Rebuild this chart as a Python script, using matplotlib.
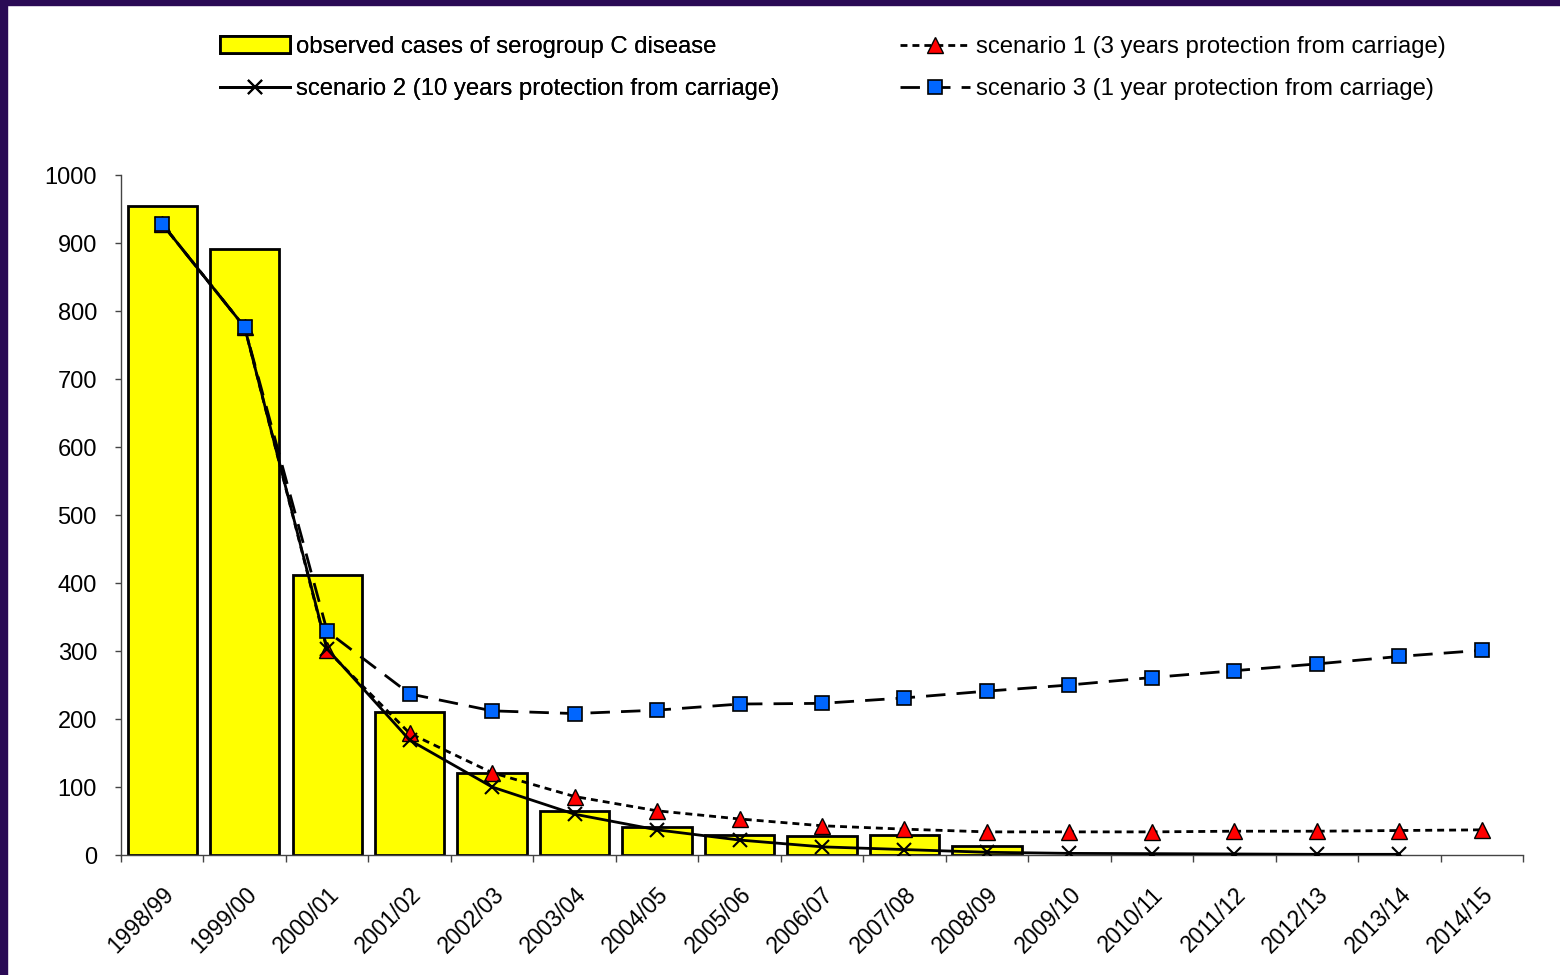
import matplotlib
matplotlib.use("Agg")
import matplotlib.pyplot as plt
import matplotlib.transforms as mtransforms
from matplotlib.patches import Rectangle

plt.rcParams['font.family'] = ['Liberation Sans', 'DejaVu Sans']

seasons = ["1998/99", "1999/00", "2000/01", "2001/02", "2002/03", "2003/04",
           "2004/05", "2005/06", "2006/07", "2007/08", "2008/09", "2009/10",
           "2010/11", "2011/12", "2012/13", "2013/14", "2014/15"]

observed = [954, 891, 412, 211, 121, 64, 41, 29, 28, 29, 13]
scenario1 = [928, 776, 301, 179, 121, 86, 65, 53, 43, 38, 34, 34, 34, 35, 35, 36, 37]
scenario2 = [928, 776, 303, 169, 100, 60, 37, 22, 12, 8, 4, 2.4, 2, 1.5, 1, 1]
scenario3 = [928, 776, 329, 237, 212, 208, 213, 222, 223, 231, 241, 250, 261, 271, 281, 292, 301]

fig = plt.figure(figsize=(15.6, 9.75), dpi=100)
ax = fig.add_axes([121 / 1560, 1 - 855 / 975, (1523 - 121) / 1560, (855 - 175) / 975])

x = list(range(len(seasons)))
bars = ax.bar(x[:len(observed)], observed, width=0.84, color="#FFFF00",
              edgecolor="black", linewidth=2, zorder=2,
              label="observed cases of serogroup C disease")
s1, = ax.plot(x[:len(scenario1)], scenario1, color="black", lw=2, ls=(0, (2.5, 1.8)),
              marker="^", ms=11, mfc="#FF0000", mec="black", mew=1, zorder=3,
              label="scenario 1 (3 years protection from carriage)")
s2, = ax.plot(x[:len(scenario2)], scenario2, color="black", lw=2, ls="-",
              marker="x", ms=10, mec="black", mew=1.5, zorder=3,
              label="scenario 2 (10 years protection from carriage)")
s3, = ax.plot(x[:len(scenario3)], scenario3, color="black", lw=2, ls=(0, (7, 4)),
              marker="s", ms=10.5, mfc="#0066FF", mec="black", mew=1.2, zorder=4,
              label="scenario 3 (1 year protection from carriage)")

ax.set_xlim(-0.5, len(seasons) - 0.5)
ax.set_ylim(0, 1000)
ax.set_yticks(range(0, 1001, 100))
ax.set_xticks([i - 0.5 for i in range(len(seasons) + 1)], minor=False)
ax.set_xticklabels([])
ax.set_xticks(x, minor=True)
ax.set_xticklabels(seasons, minor=True, rotation=45, ha="right", va="top",
                   rotation_mode="anchor", fontsize=16.5)
shift = mtransforms.ScaledTranslation(-5 / 100, 0, fig.dpi_scale_trans)
for lab in ax.get_xticklabels(minor=True):
    lab.set_transform(lab.get_transform() + shift)
ax.tick_params(axis="x", which="minor", length=0, pad=20)
ax.tick_params(axis="x", which="major", length=5, width=1, color="#444444")
ax.tick_params(axis="y", length=4.3, width=1, color="#444444", labelsize=17, pad=13)
for side in ["top", "right"]:
    ax.spines[side].set_visible(False)
for side in ["left", "bottom"]:
    ax.spines[side].set_color("#444444")
    ax.spines[side].set_linewidth(1)

leg_kw = dict(loc="upper left", frameon=False, fontsize=17.2, handlelength=2.95,
              handletextpad=0.25, labelspacing=0.85, borderpad=0, borderaxespad=0)
leg1 = fig.legend([bars, s2], [bars.get_label(), s2.get_label()],
                  bbox_to_anchor=(220 / 1560, 1 - 36 / 975), **leg_kw)
fig.add_artist(leg1)
fig.legend([s1, s3], [s1.get_label(), s3.get_label()],
           bbox_to_anchor=(900 / 1560, 1 - 36 / 975), **leg_kw)

# dark border on left and top
fig.patches.append(Rectangle((0, 0), 7 / 1560, 1, transform=fig.transFigure,
                             color="#2A0A55", zorder=10))
fig.patches.append(Rectangle((0, 1 - 5 / 975), 1, 5 / 975, transform=fig.transFigure,
                             color="#2A0A55", zorder=10))

fig.savefig("out.png", dpi=100)
